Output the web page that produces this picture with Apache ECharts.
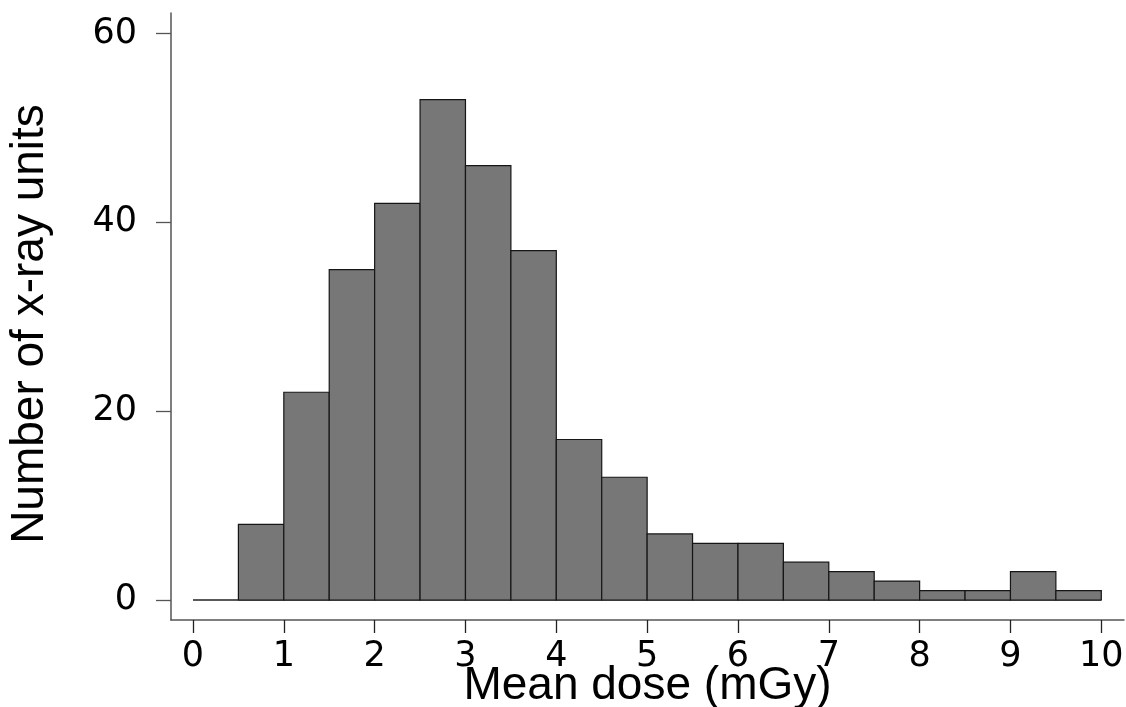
<!DOCTYPE html>
<html>
<head>
<meta charset="utf-8">
<script src="https://cdn.jsdelivr.net/npm/echarts@6/dist/echarts.min.js"></script>
<style>
html,body{margin:0;padding:0;background:#fff;}
#chart{width:1126px;height:707px;}
</style>
</head>
<body>
<div id="chart"></div>
<script>
// Histogram bin edges (mGy) and counts per bin
const binEdges = [0.5, 1, 1.5, 2, 2.5, 3, 3.5, 4, 4.5, 5, 5.5, 6, 6.5, 7, 7.5, 8, 8.5, 9, 9.5, 10];
const counts = [8, 22, 35, 42, 53, 46, 37, 17, 13, 7, 6, 6, 4, 3, 2, 1, 1, 3, 1];
const xTicks = [0, 1, 2, 3, 4, 5, 6, 7, 8, 9, 10];
const yTicks = [0, 20, 40, 60];
const xTitle = 'Mean dose (mGy)';
const yTitle = 'Number of x-ray units';

const chart = echarts.init(document.getElementById('chart'), null, {renderer: 'canvas'});
const barData = counts.map((c, i) => [binEdges[i], binEdges[i + 1], c]);

const option = {
  animation: false,
  backgroundColor: '#fff',
  grid: {left: 171, right: 2, top: 13, bottom: 87, containLabel: false, outerBoundsMode: 'none'},
  xAxis: {
    type: 'value',
    min: -0.242,
    max: 10.25,
    axisLine: {show: true, onZero: false, lineStyle: {color: '#555', width: 1.5}},
    axisTick: {show: true, length: 13, customValues: xTicks, lineStyle: {color: '#222', width: 1.3}},
    axisLabel: {customValues: xTicks, margin: 19, fontSize: 35, fontFamily: 'DejaVu Sans', color: '#000'},
    splitLine: {show: false},
    name: xTitle,
    nameLocation: 'middle',
    nameMoveOverlap: false,
    nameGap: 43,
    nameTextStyle: {fontSize: 46, fontFamily: 'Liberation Sans', color: '#000'}
  },
  yAxis: {
    type: 'value',
    min: -2.12,
    max: 62.17,
    axisLine: {show: true, onZero: false, lineStyle: {color: '#555', width: 1.5}},
    axisTick: {show: true, length: 15, customValues: yTicks, lineStyle: {color: '#555', width: 1.3}},
    axisLabel: {customValues: yTicks, margin: 34, fontSize: 35, fontFamily: 'DejaVu Sans', color: '#000'},
    splitLine: {show: false},
    name: yTitle,
    nameLocation: 'middle',
    nameMoveOverlap: false,
    nameRotate: 90,
    nameGap: 118,
    nameTextStyle: {fontSize: 46, fontFamily: 'Liberation Sans', color: '#000', padding: [0, 15, 0, 0]}
  },
  series: [
    {
      type: 'line',
      data: [[xTicks[0], 0], [xTicks[xTicks.length - 1], 0]],
      symbol: 'none',
      lineStyle: {color: '#222', width: 1.3},
      silent: true,
      z: 1
    },
    {
      type: 'custom',
      data: barData,
      encode: {x: [0, 1], y: 2},
      z: 2,
      renderItem: function (params, api) {
        const p0 = api.coord([api.value(0), api.value(2)]);
        const p1 = api.coord([api.value(1), 0]);
        return {
          type: 'rect',
          shape: {x: p0[0], y: p0[1], width: p1[0] - p0[0], height: p1[1] - p0[1]},
          style: {fill: '#777777', stroke: '#161616', lineWidth: 1.2}
        };
      }
    }
  ]
};
chart.setOption(option);
</script>
</body>
</html>
